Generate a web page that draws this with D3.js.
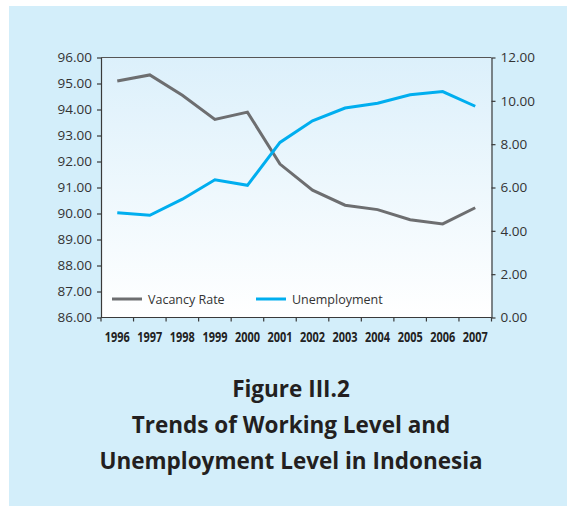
<!DOCTYPE html>
<html>
<head>
<meta charset="utf-8">
<script src="https://cdn.jsdelivr.net/npm/d3@7"></script>
<style>
  html, body { margin: 0; padding: 0; background: #ffffff; }
  svg { display: block; }
</style>
</head>
<body>
<svg id="chart" width="567" height="506"></svg>
<script>
// Years on the x axis
const years = ["1996","1997","1998","1999","2000","2001","2002","2003","2004","2005","2006","2007"];
// Vacancy rate (left axis, %)
const vacancyRate = [95.10, 95.33, 94.55, 93.62, 93.90, 91.90, 90.90, 90.32, 90.15, 89.76, 89.60, 90.22];
// Unemployment (right axis, %)
const unemployment = [4.84, 4.72, 5.46, 6.36, 6.10, 8.08, 9.08, 9.67, 9.89, 10.28, 10.43, 9.75];
// Axis tick values
const leftTicks = [86, 87, 88, 89, 90, 91, 92, 93, 94, 95, 96];
const rightTicks = [0, 2, 4, 6, 8, 10, 12];
const titleLines = ["Figure III.2", "Trends of Working Level and", "Unemployment Level in Indonesia"];

const svg = d3.select("#chart");
const W = 567, H = 506;
const m = { left: 101, right: 491.5, top: 57.5, bottom: 317.5 };

// Panel background
svg.append("rect").attr("x", 9).attr("y", 6).attr("width", W - 9).attr("height", H - 6).attr("fill", "#d3eefa");

// Plot area gradient
const defs = svg.append("defs");
const grad = defs.append("linearGradient").attr("id", "plotGrad").attr("x1", 0).attr("y1", 0).attr("x2", 0).attr("y2", 1);
grad.append("stop").attr("offset", "0%").attr("stop-color", "#dcf0fb");
grad.append("stop").attr("offset", "100%").attr("stop-color", "#ffffff");

svg.append("rect")
  .attr("x", m.left).attr("y", m.top)
  .attr("width", m.right - m.left).attr("height", m.bottom - m.top)
  .attr("fill", "url(#plotGrad)");

const x = d3.scaleBand().domain(years).range([m.left, m.right]);
const yL = d3.scaleLinear().domain([86, 96]).range([m.bottom, m.top]);
const yR = d3.scaleLinear().domain([0, 12]).range([m.bottom, m.top]);

const axisColor = "#3a3a3a";
const tickFont = "'Open Sans', 'Noto Sans', sans-serif";

// Left axis
const gL = svg.append("g").attr("transform", `translate(${m.left},0)`)
  .call(d3.axisLeft(yL).tickValues(leftTicks).tickSize(4).tickSizeOuter(0).tickPadding(5).tickFormat(d3.format(".2f")));
// Right axis
const gR = svg.append("g").attr("transform", `translate(${m.right},0)`)
  .call(d3.axisRight(yR).tickValues(rightTicks).tickSize(4).tickSizeOuter(0).tickPadding(5).tickFormat(d3.format(".2f")));
[gL, gR].forEach(g => {
  g.selectAll("path").attr("stroke", axisColor).attr("stroke-width", 1.2);
  g.selectAll("line").attr("stroke", axisColor).attr("stroke-width", 1.2);
  g.selectAll("text").attr("fill", "#333").style("font-family", tickFont).style("font-size", "13.5px");
});

// Bottom axis: ticks at band edges, labels at band centres (condensed bold)
const gB = svg.append("g").attr("transform", `translate(0,${m.bottom})`)
  .call(d3.axisBottom(x).tickSize(0).tickPadding(15));
gB.select("path").remove();
gB.selectAll("text").attr("fill", "#222")
  .attr("textLength", 25).attr("lengthAdjust", "spacingAndGlyphs")
  .style("font-family", tickFont)
  .style("font-weight", "bold").style("font-size", "14px");
svg.append("line").attr("x1", m.left).attr("x2", m.right).attr("y1", m.bottom).attr("y2", m.bottom)
  .attr("stroke", axisColor).attr("stroke-width", 1.2);
const edges = years.map(d => x(d)).concat([x(years[years.length - 1]) + x.bandwidth()]);
svg.append("g").selectAll("line").data(edges).join("line")
  .attr("x1", d => d).attr("x2", d => d).attr("y1", m.bottom).attr("y2", m.bottom + 4)
  .attr("stroke", axisColor).attr("stroke-width", 1.2);

// Top border
svg.append("line").attr("x1", m.left).attr("x2", m.right).attr("y1", m.top).attr("y2", m.top)
  .attr("stroke", "#555").attr("stroke-width", 1.2);

const cx = d => x(d) + x.bandwidth() / 2;

// Series lines
const lineV = d3.line().x((d, i) => cx(years[i])).y(d => yL(d));
const lineU = d3.line().x((d, i) => cx(years[i])).y(d => yR(d));

svg.append("path").datum(vacancyRate).attr("d", lineV)
  .attr("fill", "none").attr("stroke", "#6d6e70").attr("stroke-width", 3).attr("stroke-linejoin", "miter");
svg.append("path").datum(unemployment).attr("d", lineU)
  .attr("fill", "none").attr("stroke", "#00aeef").attr("stroke-width", 3).attr("stroke-linejoin", "miter");

// Legend
const legend = [
  { label: "Vacancy Rate", color: "#6d6e70", x0: 112 },
  { label: "Unemployment", color: "#00aeef", x0: 256 }
];
const lg = svg.append("g").selectAll("g").data(legend).join("g");
lg.append("line").attr("x1", d => d.x0).attr("x2", d => d.x0 + 30).attr("y1", 299).attr("y2", 299)
  .attr("stroke", d => d.color).attr("stroke-width", 3);
lg.append("text").attr("x", d => d.x0 + 36).attr("y", 303.5).text(d => d.label)
  .attr("fill", "#333").style("font-family", tickFont).style("font-size", "12.5px");

// Title
svg.append("g").selectAll("text").data(titleLines).join("text")
  .attr("x", 291).attr("y", (d, i) => 397 + i * 36)
  .attr("text-anchor", "middle").text(d => d)
  .attr("fill", "#231f20").style("font-family", tickFont).style("font-weight", "bold").style("font-size", "22.5px");
</script>
</body>
</html>
